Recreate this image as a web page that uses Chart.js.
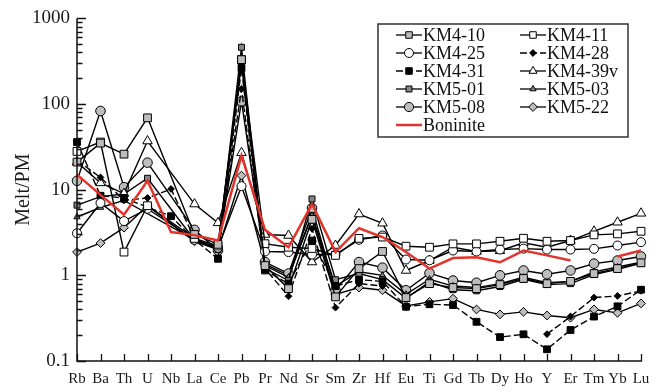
<!DOCTYPE html>
<html>
<head>
<meta charset="utf-8">
<script src="https://cdn.jsdelivr.net/npm/chart.js@4.4.1/dist/chart.umd.min.js"></script>
<style>
    body { margin: 0; background: #fff; }
</style>
</head>
<body>
<canvas id="graphique" width="661" height="392"></canvas>
<script>
// Éléments du diagramme multi-élémentaire (normalisé au manteau primitif)
const elements = ["Rb", "Ba", "Th", "U", "Nb", "La", "Ce", "Pb", "Pr", "Nd", "Sr", "Sm", "Zr",
    "Hf", "Eu", "Ti", "Gd", "Tb", "Dy", "Ho", "Y", "Er", "Tm", "Yb", "Lu"];

// Graduations principales de l'axe log
const graduationsY = [0.1, 1, 10, 100, 1000];

// Valeurs Melt/PM par échantillon (null = non mesuré)
const km4_10 = [21, 35, 26, 69, null, 3.0, 2.3, 330, 1.3, 0.70, 4.5, 0.56, 1.2, 1.9, 0.55, 0.80, 0.72, 0.70, 0.78, 0.92, 0.80, 0.85, 1.05, 1.2, 1.4];
const km4_11 = [28, 36, 1.87, 6.5, null, 2.7, 2.2, 330, 2.34, 2.13, 2.06, 1.71, 2.7, 2.8, 2.19, 2.13, 2.33, 2.33, 2.5, 2.71, 2.5, 2.55, 2.97, 3.05, 3.27];
const km4_25 = [3.1, 7.0, 4.3, 6.0, null, 2.6, 2.1, 11, 1.9, 1.87, 1.75, 1.75, 2.6, 2.92, 1.53, 1.5, 1.95, 1.9, 2.0, 2.05, 2.0, 2.0, 2.04, 2.23, 2.44];
const km4_28 = [22, 13.9, 7.5, 8.0, 10.2, 2.7, 2.0, 150, 1.2, 0.57, 3.5, 0.42, 0.8, 0.75, null, null, null, null, null, null, 0.206, 0.33, 0.55, 0.575, 0.66];
const km4_31 = [36, 8.5, 8.0, null, 4.9, 2.6, 1.56, 264, 1.14, 0.8, 2.55, 0.75, 0.89, 0.85, 0.43, 0.46, 0.45, 0.287, 0.19, 0.205, 0.137, 0.23, 0.33, 0.435, 0.68];
const km4_39v = [21, 12, 9, 37, null, 6.8, 4.1, 27, 3.0, 2.92, 1.43, 2.23, 5.2, 4.06, 1.14, 1.49, 2.13, 1.9, 1.94, 2.4, 2.13, 2.55, 3.27, 4.17, 5.3];
const km5_01 = [6.6, 8.3, 8.9, 13.6, null, 2.6, 2.0, 460, 1.2, 0.87, 7.8, 0.89, 1.05, 0.89, 0.54, 0.84, 0.68, 0.66, 0.74, 0.9, 0.78, 0.8, 1.02, 1.18, 1.38];
const km5_03 = [4.8, 6.2, 7.5, null, null, 2.6, 2.1, 300, 1.3, 0.95, 5.0, 0.75, 1.1, 1.0, 0.6, 0.9, 0.75, 0.72, 0.8, 0.95, 0.82, 0.85, 1.1, 1.25, 1.42];
const km5_08 = [12.7, 83, 10.7, 20.7, null, 3.4, 1.95, 108, 1.43, 1.05, 6.1, 0.67, 1.43, 1.23, 0.67, 1.06, 0.87, 0.82, 1.0, 1.14, 1.03, 1.14, 1.37, 1.49, 1.66];
const km5_22 = [1.87, 2.38, 3.6, 6.5, null, 2.5, 2.0, 14.6, 1.35, 1.0, 5.1, 0.6, 0.72, 0.67, 0.44, 0.49, 0.535, 0.40, 0.35, 0.375, 0.34, 0.32, 0.40, 0.365, 0.47];
const boninite = [15, 8.7, 5.1, 12.7, 3.2, 2.95, 2.55, 25, 3.4, 2.13, 6.8, 1.87, 3.55, 2.8, 1.87, 1.2, 1.59, 1.63, 1.42, 1.95, 1.71, 1.49, null, 1.66, 1.95];

const grisClair = "#bdbdbd";
const grisFonce = "#858585";
const policeSerif = '"Liberation Serif", serif';

// Fonction pour construire une série avec les réglages communs
function serie(label, data, style) {
    return Object.assign({
        label: label,
        data: data,
        borderColor: "#000",
        borderWidth: 1.4,
        pointBorderColor: "#000",
        pointBorderWidth: 1,
        spanGaps: true,
        tension: 0,
        order: 1,
    }, style);
}

const series = [
    serie("KM4-10", km4_10, { pointStyle: "rect", pointRadius: 5.5, pointBackgroundColor: grisClair }),
    serie("KM4-11", km4_11, { pointStyle: "rect", pointRadius: 5.5, pointBackgroundColor: "#fff" }),
    serie("KM4-25", km4_25, { pointStyle: "circle", pointRadius: 4.5, pointBackgroundColor: "#fff" }),
    serie("KM4-28", km4_28, { pointStyle: "rectRot", pointRadius: 3.4, pointBackgroundColor: "#000", borderDash: [7, 3], spanGaps: false }),
    serie("KM4-31", km4_31, { pointStyle: "rect", pointRadius: 4.8, pointBackgroundColor: "#000", borderDash: [7, 3] }),
    serie("KM4-39v", km4_39v, { pointStyle: "triangle", pointRadius: 5.5, pointBackgroundColor: "#fff" }),
    serie("KM5-01", km5_01, { pointStyle: "rect", pointRadius: 4.2, pointBackgroundColor: grisFonce }),
    serie("KM5-03", km5_03, { pointStyle: "triangle", pointRadius: 3.6, pointBackgroundColor: grisFonce }),
    serie("KM5-08", km5_08, { pointStyle: "circle", pointRadius: 4.8, pointBackgroundColor: grisClair }),
    serie("KM5-22", km5_22, { pointStyle: "rectRot", pointRadius: 4.4, pointBackgroundColor: grisClair }),
    serie("Boninite", boninite, { borderColor: "#e2342b", borderWidth: 2.5, pointRadius: 0, spanGaps: false, order: 0 }),
];

// Traits de graduation tournés vers l'intérieur + axes
const graduationsPlugin = {
    id: "graduations",
    afterDraw(chart) {
        const ctx = chart.ctx;
        const sx = chart.scales.x;
        const sy = chart.scales.y;
        const zone = chart.chartArea;
        ctx.save();
        ctx.strokeStyle = "#111";
        ctx.lineWidth = 1.5;
        ctx.beginPath();
        ctx.moveTo(zone.left, sy.getPixelForValue(1000));
        ctx.lineTo(zone.left, zone.bottom);
        ctx.lineTo(sx.getPixelForValue(elements.length - 1) + 1, zone.bottom);
        ctx.stroke();

        ctx.lineWidth = 1.3;
        ctx.beginPath();
        for (let d = -1; d <= 3; d++) {
            for (let m = 1; m <= 9; m++) {
                const v = m * Math.pow(10, d);
                if (v > 1000.001) break;
                const y = Math.round(sy.getPixelForValue(v)) + 0.5;
                const longueur = m === 1 ? 9 : 5.5;
                ctx.moveTo(zone.left, y);
                ctx.lineTo(zone.left + longueur, y);
            }
        }
        for (let i = 0; i < elements.length; i++) {
            const x = Math.round(sx.getPixelForValue(i)) + 0.5;
            ctx.moveTo(x, zone.bottom);
            ctx.lineTo(x, zone.bottom - 7);
        }
        ctx.stroke();
        ctx.restore();
    },
};

// Légende encadrée sur deux colonnes
const legendePlugin = {
    id: "legende",
    afterDraw(chart) {
        const ctx = chart.ctx;
        const boite = { x: 378, y: 24, w: 250, h: 113 };
        ctx.save();
        ctx.fillStyle = "#fff";
        ctx.fillRect(boite.x, boite.y, boite.w, boite.h);
        ctx.strokeStyle = "#333";
        ctx.lineWidth = 1.5;
        ctx.strokeRect(boite.x, boite.y, boite.w, boite.h);

        ctx.font = "18px " + policeSerif;
        ctx.textBaseline = "middle";
        chart.data.datasets.forEach((ds, i) => {
            const col = i % 2;
            const ligne = Math.floor(i / 2);
            const x0 = col === 0 ? 396 : 520;
            const y = 35 + ligne * 18;
            ctx.strokeStyle = ds.borderColor;
            ctx.lineWidth = ds.pointRadius ? 1.3 : 2.5;
            ctx.setLineDash(ds.borderDash || []);
            ctx.beginPath();
            ctx.moveTo(x0, y);
            ctx.lineTo(x0 + 26, y);
            ctx.stroke();
            ctx.setLineDash([]);
            if (ds.pointRadius) {
                ctx.fillStyle = ds.pointBackgroundColor;
                ctx.strokeStyle = "#000";
                ctx.lineWidth = 1;
                Chart.helpers.drawPoint(ctx, {
                    pointStyle: ds.pointStyle,
                    radius: Math.min(ds.pointRadius, 4.6),
                    rotation: 0,
                    borderWidth: 1,
                }, x0 + 13, y);
            }
            ctx.fillStyle = "#111";
            ctx.fillText(ds.label, x0 + 27, y + 1);
        });
        ctx.restore();
    },
};

Chart.defaults.font.family = policeSerif;
Chart.defaults.color = "#1a1a1a";

const canvasGraphique = document.getElementById("graphique");
const graphique = new Chart(canvasGraphique, {
    type: "line",
    data: {
        labels: elements,
        datasets: series,
    },
    options: {
        responsive: false,
        animation: false,
        layout: { padding: { top: 17, right: 20, left: 0, bottom: 0 } },
        plugins: {
            legend: { display: false },
            tooltip: { enabled: false },
        },
        scales: {
            x: {
                offset: false,
                grid: { display: false, drawTicks: false },
                border: { display: false },
                ticks: {
                    autoSkip: false,
                    maxRotation: 0,
                    minRotation: 0,
                    padding: 9,
                    font: { size: 15 },
                },
                afterFit: (scale) => { scale.height = 31; },
            },
            y: {
                type: "logarithmic",
                min: 0.1,
                max: 1000,
                grid: { display: false, drawTicks: false },
                border: { display: false },
                afterBuildTicks: (scale) => {
                    scale.ticks = graduationsY.map((v) => ({ value: v }));
                },
                ticks: {
                    padding: 7,
                    font: { size: 19 },
                    callback: (v) => String(v),
                },
                title: {
                    display: true,
                    text: "Melt/PM",
                    font: { size: 20 },
                    padding: { top: 12, bottom: 0 },
                },
                afterFit: (scale) => { scale.width = 77; },
            },
        },
    },
    plugins: [graduationsPlugin, legendePlugin],
});
</script>
</body>
</html>
